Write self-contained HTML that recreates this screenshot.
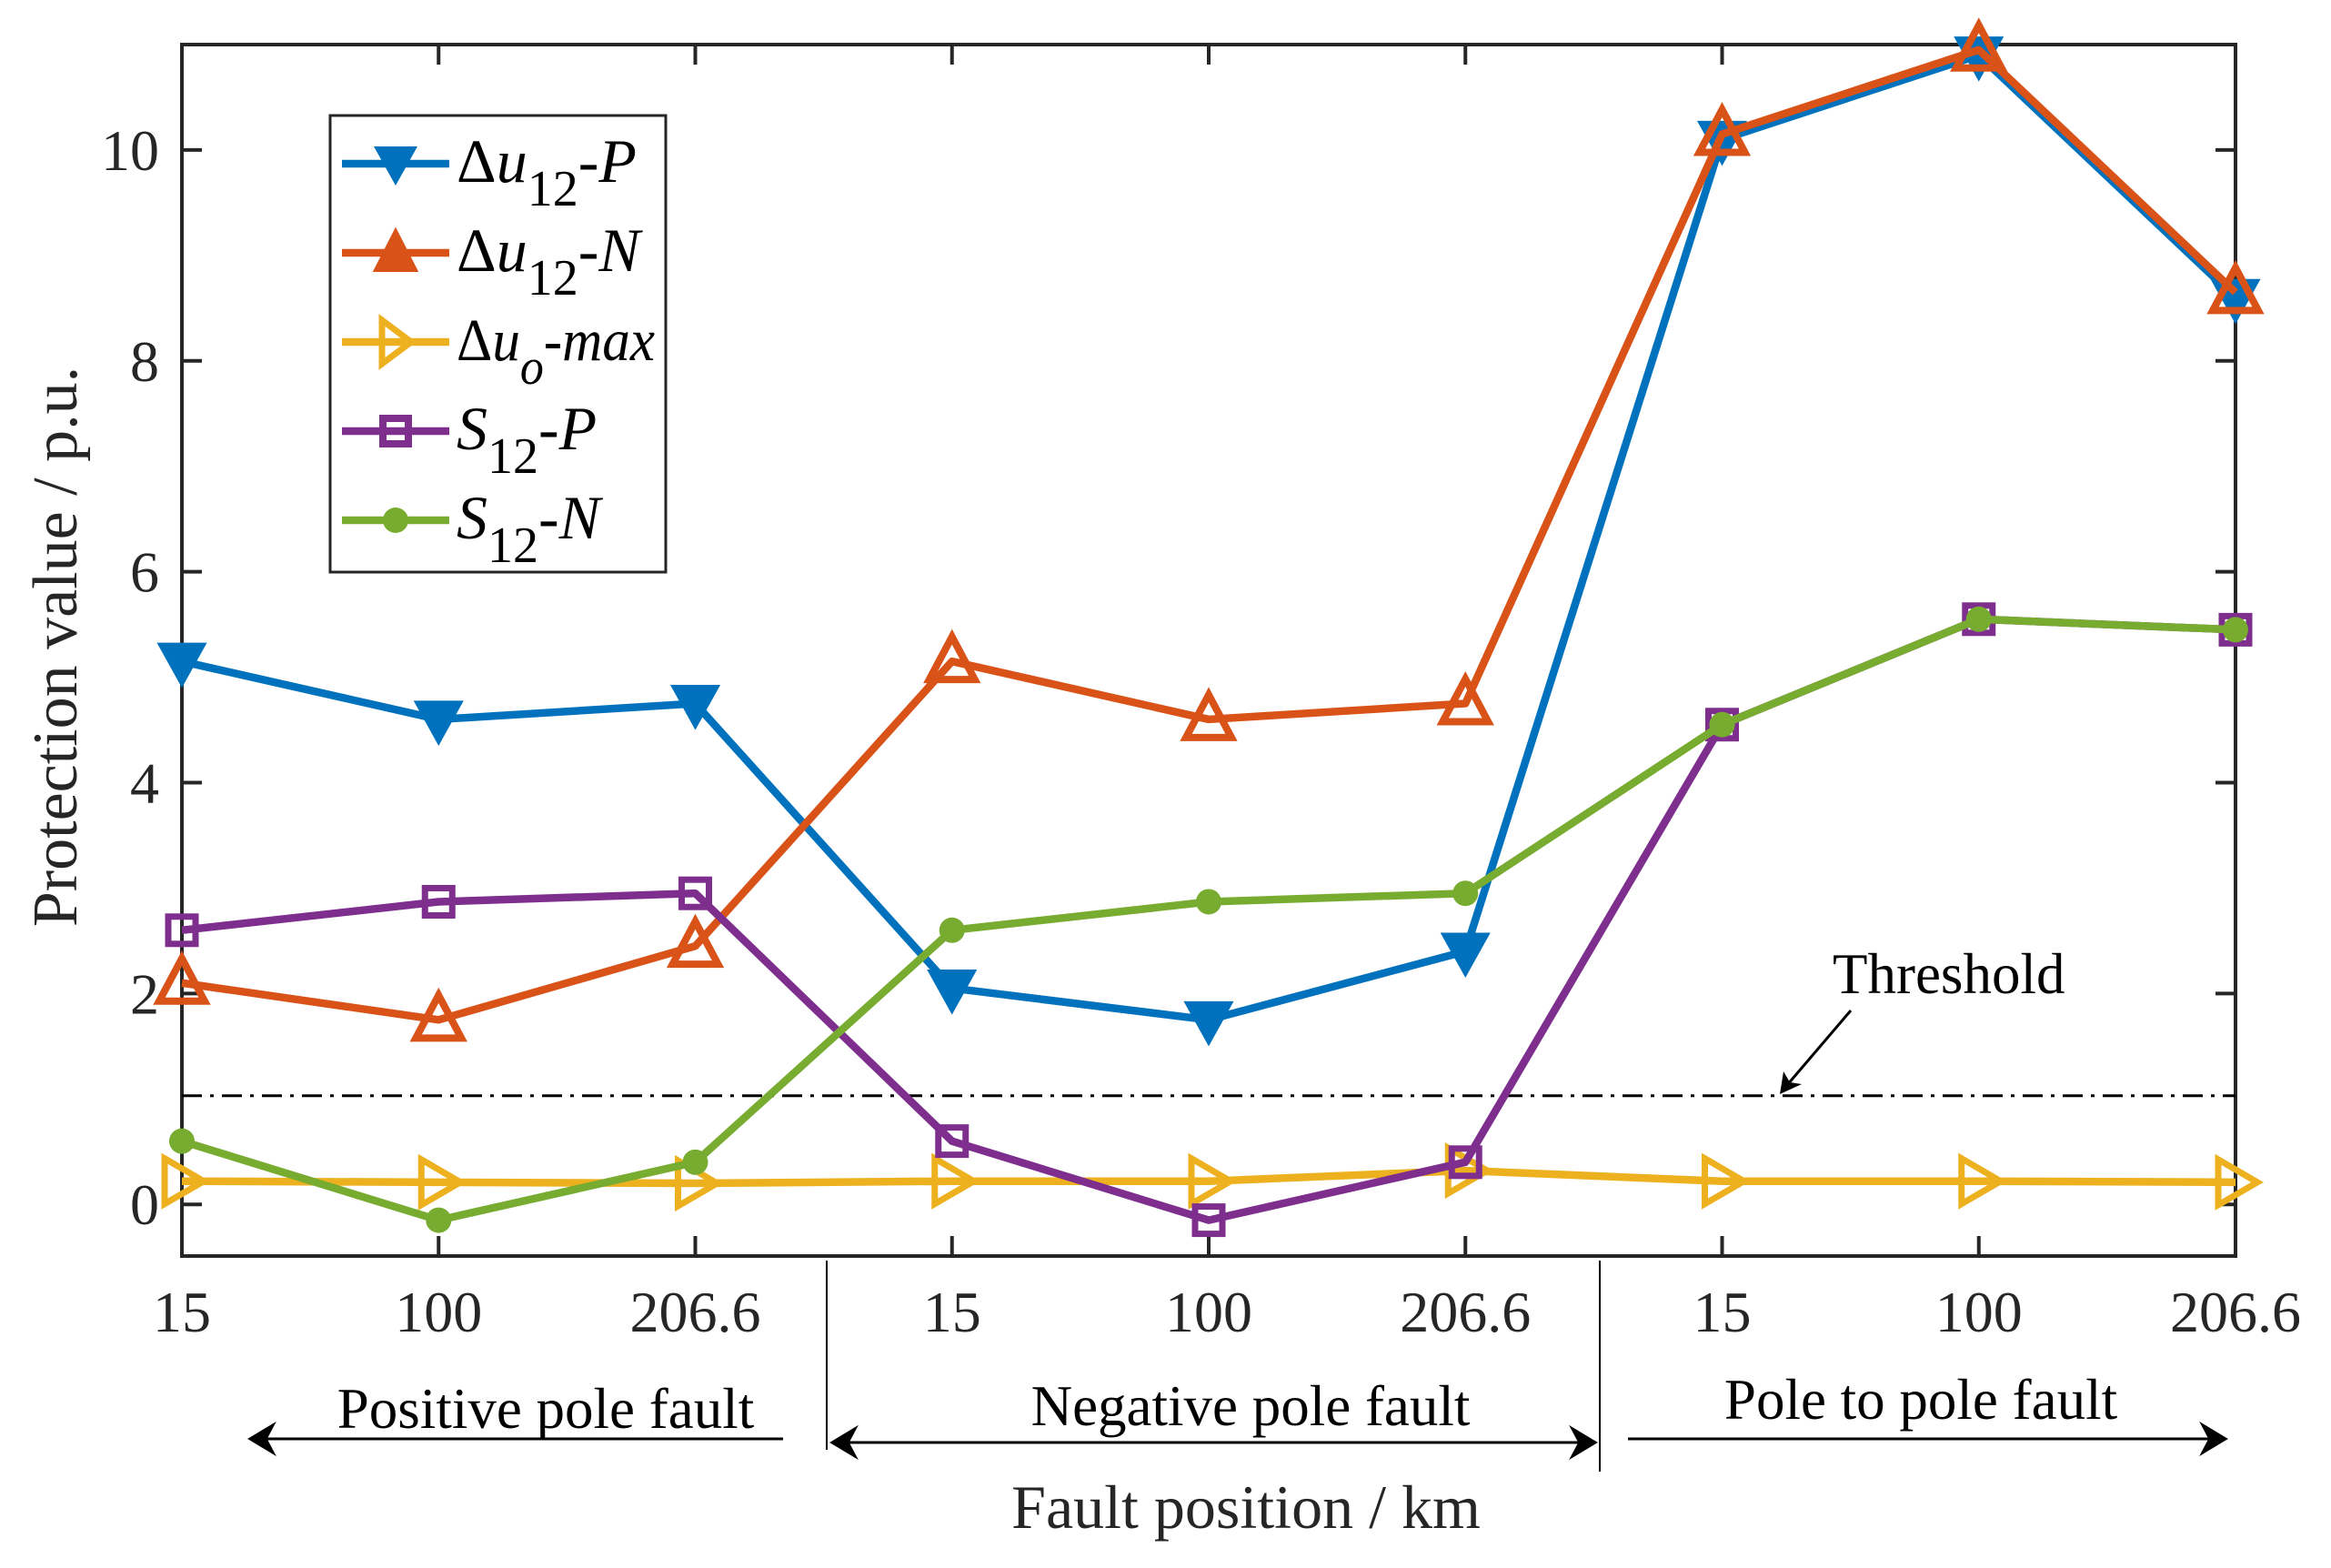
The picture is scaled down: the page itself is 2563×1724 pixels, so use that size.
<!DOCTYPE html>
<html><head><meta charset="utf-8"><style>
html,body{margin:0;padding:0;background:#fff}
svg{display:block}
text{font-family:"Liberation Serif",serif;fill:#262626}
</style></head><body>
<svg id="chart" width="2563" height="1724" viewBox="0 0 2563 1724" xmlns="http://www.w3.org/2000/svg">
<g id="plot"></g>
</svg>
<script>
const categories = ["15","100","206.6","15","100","206.6","15","100","206.6"];
const duP = [5.15,4.6,4.75,2.05,1.75,2.4,10.1,10.9,8.6];
const duN = [2.1,1.75,2.45,5.15,4.6,4.75,10.15,10.95,8.65];
const duoMax = [0.22,0.21,0.2,0.22,0.22,0.32,0.22,0.22,0.21];
const s12P = [2.6,2.87,2.95,0.6,-0.15,0.4,4.55,5.55,5.45];
const s12N = [0.6,-0.15,0.4,2.6,2.87,2.95,4.55,5.55,5.45];
const yTicks = [0,2,4,6,8,10];
const threshold = 1.03;

const NS="http://www.w3.org/2000/svg";
const L=200,R=2458,T=49,B=1381;
const yMin=-0.49,yMax=11.0;
function xs(i){return L+(R-L)*i/(categories.length-1);}
function ys(v){return B-(v-yMin)/(yMax-yMin)*(B-T);}
const svg=document.getElementById('chart');
function mk(tag,attrs,parent){const e=document.createElementNS(NS,tag);for(const k in attrs)e.setAttribute(k,attrs[k]);(parent||svg).appendChild(e);return e;}

const box=mk('rect',{x:L,y:T,width:R-L,height:B-T,fill:'none',stroke:'#262626','stroke-width':4});



yTicks.forEach(v=>{
  const y=ys(v);
  const t1=mk('line',{x1:L,y1:y,x2:L+22,y2:y,stroke:'#262626','stroke-width':4});
  
  
  const t2=mk('line',{x1:R,y1:y,x2:R-22,y2:y,stroke:'#262626','stroke-width':4});
  
  
  const lb=mk('text',{x:L-25,y:y+22,'text-anchor':'end','font-size':64});
  lb.textContent=v;
  
  
});
categories.forEach((c,i)=>{
  const x=xs(i);
  const t1=mk('line',{x1:x,y1:B,x2:x,y2:B-22,stroke:'#262626','stroke-width':4});
  
  
  const t2=mk('line',{x1:x,y1:T,x2:x,y2:T+22,stroke:'#262626','stroke-width':4});
  
  
  const lb=mk('text',{x:x,y:1464,'text-anchor':'middle','font-size':64});
  lb.textContent=c;
  
  
});

const th=mk('line',{x1:L,y1:ys(threshold),x2:R,y2:ys(threshold),stroke:'#000','stroke-width':3,'stroke-dasharray':'22,9,4,9'});



const colors={b:'#0072BD',o:'#D95319',y:'#EDB120',p:'#7E2F8E',g:'#77AC30'};
function marker(type,x,y,col,g){
  let e;
  if(type==='down') e=mk('polygon',{points:`${x-25},${y-19} ${x+25},${y-19} ${x},${y+26}`,fill:col,stroke:col,'stroke-width':3},g);
  else if(type==='up') e=mk('polygon',{points:`${x-25},${y+20} ${x+25},${y+20} ${x},${y-27}`,fill:'none',stroke:col,'stroke-width':8},g);
  else if(type==='right') e=mk('polygon',{points:`${x-19},${y-25} ${x-19},${y+25} ${x+24},${y}`,fill:'none',stroke:col,'stroke-width':7},g);
  else if(type==='sq') e=mk('rect',{x:x-15,y:y-15,width:30,height:30,fill:'none',stroke:col,'stroke-width':7},g);
  else e=mk('circle',{cx:x,cy:y,r:14,fill:col},g);
  return e;
}
function series(name,data,col,type){
  const g=mk('g',{});
  
  
  const pts=data.map((v,i)=>xs(i)+','+ys(v)).join(' ');
  const pl=mk('polyline',{points:pts,fill:'none',stroke:col,'stroke-width':8.5,'stroke-linejoin':'round'},g);
  
  
  data.forEach((v,i)=>{
    const m=marker(type,xs(i),ys(v),col,g);
    
    
  });
}
series('series-du12-p',duP,colors.b,'down');
series('series-du12-n',duN,colors.o,'up');
series('series-duo-max',duoMax,colors.y,'right');
series('series-s12-p',s12P,colors.p,'sq');
series('series-s12-n',s12N,colors.g,'dot');
</script>
<svg style="position:absolute;left:0;top:0" width="2563" height="1724" viewBox="0 0 2563 1724" xmlns="http://www.w3.org/2000/svg">
<g>
<rect x="363" y="127" width="369" height="502" fill="#fff" stroke="#262626" stroke-width="3"/>
<g>
<line x1="376" y1="180" x2="494" y2="180" stroke="#0072BD" stroke-width="8.5"/>
<polygon points="411,161 459,161 435,204" fill="#0072BD"/>
<text x="502" y="200" font-size="68" style="fill:#000">Δ<tspan font-style="italic">u</tspan><tspan font-size="56" dy="26">12</tspan><tspan dy="-26" font-style="italic">-P</tspan></text></g>
<g>
<line x1="376" y1="278" x2="494" y2="278" stroke="#D95319" stroke-width="8.5"/>
<polygon points="413,297 457,297 435,254" fill="#D95319" stroke="#D95319" stroke-width="4"/>
<text x="502" y="298" font-size="68" style="fill:#000">Δ<tspan font-style="italic">u</tspan><tspan font-size="56" dy="26">12</tspan><tspan dy="-26" font-style="italic">-N</tspan></text></g>
<g>
<line x1="376" y1="376" x2="494" y2="376" stroke="#EDB120" stroke-width="8.5"/>
<polygon points="420,352 420,400 452,376" fill="none" stroke="#EDB120" stroke-width="7"/>
<text x="502" y="396" font-size="66" style="fill:#000" textLength="218" lengthAdjust="spacingAndGlyphs">Δ<tspan font-style="italic">u</tspan><tspan font-size="56" dy="26" font-style="italic">o</tspan><tspan dy="-26" font-style="italic">-max</tspan></text></g>
<g>
<line x1="376" y1="474" x2="494" y2="474" stroke="#7E2F8E" stroke-width="8.5"/>
<rect x="421" y="460" width="28" height="28" fill="none" stroke="#7E2F8E" stroke-width="8"/>
<text x="502" y="494" font-size="68" style="fill:#000"><tspan font-style="italic">S</tspan><tspan font-size="56" dy="26">12</tspan><tspan dy="-26" font-style="italic">-P</tspan></text></g>
<g>
<line x1="376" y1="572" x2="494" y2="572" stroke="#77AC30" stroke-width="8.5"/>
<circle cx="435" cy="572" r="14" fill="#77AC30"/>
<text x="502" y="592" font-size="68" style="fill:#000"><tspan font-style="italic">S</tspan><tspan font-size="56" dy="26">12</tspan><tspan dy="-26" font-style="italic">-N</tspan></text></g>
</g>
<text x="0" y="0" font-size="70" text-anchor="middle" transform="translate(84,711) rotate(-90)">Protection value / p.u.</text>
<text x="1370" y="1680" font-size="68" text-anchor="middle">Fault position / km</text>
<text x="600" y="1570" font-size="63" text-anchor="middle" style="fill:#000">Positive pole fault</text>
<text x="1375" y="1567" font-size="63" text-anchor="middle" style="fill:#000">Negative pole fault</text>
<text x="2112" y="1560" font-size="63" text-anchor="middle" style="fill:#000">Pole to pole fault</text>
<line x1="909" y1="1386" x2="909" y2="1594" stroke="#000" stroke-width="2"/>
<line x1="1759" y1="1386" x2="1759" y2="1618" stroke="#000" stroke-width="2"/>
<g stroke="#000" stroke-width="3" fill="#000">
<line x1="861" y1="1582" x2="290" y2="1582"/>
<polygon points="275,1582 300,1567 292,1582 300,1597"/>
<line x1="930" y1="1586" x2="1740" y2="1586"/>
<polygon points="915,1586 940,1571 932,1586 940,1601"/>
<polygon points="1754,1586 1729,1571 1737,1586 1729,1601"/>
<line x1="1790" y1="1582" x2="2432" y2="1582"/>
<polygon points="2447,1582 2422,1567 2430,1582 2422,1597"/>
</g>
<text x="2015" y="1092" font-size="63" style="fill:#000">Threshold</text>
<g>
<line x1="2035" y1="1111" x2="1965" y2="1193" stroke="#000" stroke-width="3"/>
<polygon points="1957,1203 1961,1178 1968,1190 1981,1192" fill="#000"/>
</g>
</svg>
</body></html>
